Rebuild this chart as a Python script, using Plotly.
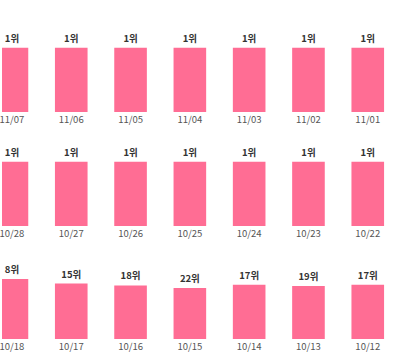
import plotly.graph_objects as go

# Row 1
dates_r1 = ["11/07", "11/06", "11/05", "11/04", "11/03", "11/02", "11/01"]
ranks_r1 = [1, 1, 1, 1, 1, 1, 1]
values_r1 = [100, 100, 100, 100, 100, 100, 100]
# Row 2
dates_r2 = ["10/28", "10/27", "10/26", "10/25", "10/24", "10/23", "10/22"]
ranks_r2 = [1, 1, 1, 1, 1, 1, 1]
values_r2 = [100, 100, 100, 100, 100, 100, 100]
# Row 3
dates_r3 = ["10/18", "10/17", "10/16", "10/15", "10/14", "10/13", "10/12"]
ranks_r3 = [8, 15, 18, 22, 17, 19, 17]
values_r3 = [93, 86, 83, 79, 84, 82, 84]

W, H = 400, 364
BAR_COLOR = "#FF6D94"
FONT = "Noto Sans CJK KR, Malgun Gothic, sans-serif"

rows = [(dates_r1, ranks_r1, values_r1, 112),
        (dates_r2, ranks_r2, values_r2, 226),
        (dates_r3, ranks_r3, values_r3, 339)]

px_per_unit = 0.645
step = 59.6
x0_px = 10.0
r0 = -x0_px / step
r1 = r0 + W / step

fig = go.Figure()
layout_axes = {}
for i, (dates, ranks, vals, bottom) in enumerate(rows):
    n = "" if i == 0 else str(i + 1)
    fig.add_trace(go.Bar(
        x=list(range(len(dates))), y=vals,
        text=[f"{r}위" for r in ranks],
        textposition="outside",
        textfont=dict(family=FONT, size=9.5, color="#333333", weight="bold"),
        marker=dict(color=BAR_COLOR, line=dict(width=0)),
        width=0.55,
        cliponaxis=False,
        xaxis="x" + n, yaxis="y" + n,
        hoverinfo="skip",
    ))
    top = bottom - 100 * px_per_unit
    layout_axes["xaxis" + n] = dict(
        domain=[0, 1], range=[r0, r1], autorange=False, anchor="y" + n,
        type="linear", showgrid=False, zeroline=False, showline=False,
        tickmode="array", tickvals=list(range(len(dates))), ticktext=dates,
        ticklabeloverflow="allow",
        ticks="", tickfont=dict(family=FONT, size=9.5, color="#555555"),
    )
    layout_axes["yaxis" + n] = dict(
        domain=[1 - bottom / H, 1 - top / H], range=[0, 100], autorange=False,
        anchor="x" + n,
        showgrid=False, zeroline=False, showline=False, showticklabels=False,
    )

fig.update_layout(
    width=W, height=H,
    margin=dict(l=0, r=0, t=0, b=0, pad=0),
    paper_bgcolor="white", plot_bgcolor="white",
    showlegend=False,
    **layout_axes,
)
fig.write_html("out.html", config={"displayModeBar": False},
               post_script="document.body.style.margin='0';")
